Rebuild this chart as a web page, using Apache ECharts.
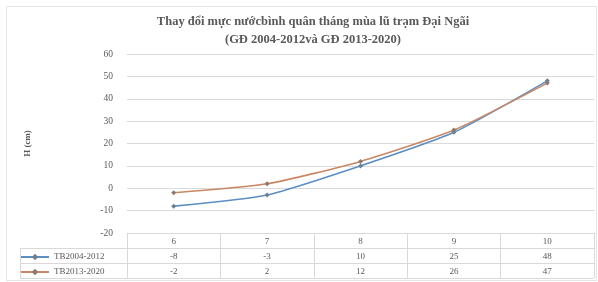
<!DOCTYPE html>
<html>
<head>
<meta charset="utf-8">
<script src="https://cdn.jsdelivr.net/npm/echarts@6/dist/echarts.min.js"></script>
<style>
  html, body { margin: 0; padding: 0; background: #fff; }
  #chart { width: 598px; height: 282px; }
</style>
</head>
<body>
<div id="chart"></div>
<script>
// số liệu
const months = ['6', '7', '8', '9', '10'];
const tb2004 = [-8, -3, 10, 25, 48];
const tb2013 = [-2, 2, 12, 26, 47];
const seriesNames = ['TB2004-2012', 'TB2013-2020'];

const serif = 'Liberation Serif';
const textColor = '#595959';
const gridColor = '#d9d9d9';

const chart = echarts.init(document.getElementById('chart'));

const option = {
  backgroundColor: '#fff',
  animation: false,
  title: {
    text: 'Thay đổi mực nướcbình quân tháng mùa lũ trạm Đại Ngãi\n(GĐ 2004-2012và GĐ 2013-2020)',
    left: 308,
    top: 8,
    textAlign: 'center',
    textStyle: {
      fontFamily: serif,
      fontSize: 12.5,
      fontWeight: 'bold',
      color: textColor,
      lineHeight: 18
    }
  },
  legend: {
    orient: 'vertical',
    left: 20,
    top: 251,
    padding: 0,
    itemWidth: 28,
    itemHeight: 8,
    itemGap: 3,
    textStyle: { fontFamily: serif, fontSize: 9, color: textColor, lineHeight: 12 },
    data: seriesNames
  },
  grid: {
    left: 127,
    right: 4,
    top: 54,
    bottom: 49
  },
  xAxis: {
    type: 'category',
    data: months,
    boundaryGap: true,
    axisLine: { onZero: false, lineStyle: { color: gridColor } },
    axisTick: { show: true, length: 45, lineStyle: { color: gridColor } },
    axisLabel: {
      margin: 1,
      fontFamily: serif,
      fontSize: 9,
      color: textColor,
      lineHeight: 15,
      formatter: function (v, i) {
        return v + '\n' + tb2004[i] + '\n' + tb2013[i];
      }
    }
  },
  yAxis: {
    type: 'value',
    min: -20,
    max: 60,
    interval: 10,
    name: 'H (cm)',
    nameLocation: 'middle',
    nameGap: 95,
    nameTextStyle: { fontFamily: serif, fontSize: 9, color: textColor, fontWeight: 'bold' },
    axisLine: { show: false },
    axisTick: { show: false },
    axisLabel: { margin: 14, fontFamily: serif, fontSize: 9.5, color: textColor },
    splitLine: { lineStyle: { color: gridColor } }
  },
  series: [
    {
      name: seriesNames[0],
      type: 'line',
      data: tb2004,
      smooth: 0.2,
      symbol: 'diamond',
      symbolSize: 5,
      lineStyle: { width: 1.6, color: '#5b8fc4' },
      itemStyle: { color: '#6f7f90' }
    },
    {
      name: seriesNames[1],
      type: 'line',
      data: tb2013,
      smooth: 0.2,
      symbol: 'diamond',
      symbolSize: 5,
      lineStyle: { width: 1.6, color: '#c98863' },
      itemStyle: { color: '#8c7a70' }
    }
  ],
  graphic: [
    // khung ngoài
    { type: 'rect', shape: { x: 6.5, y: 6.5, width: 590, height: 274 }, style: { fill: null, stroke: '#e4e4e4', lineWidth: 1 }, silent: true },
    // kẻ bảng số liệu
    { type: 'line', shape: { x1: 20, y1: 248.5, x2: 594, y2: 248.5 }, style: { stroke: gridColor, lineWidth: 1 } },
    { type: 'line', shape: { x1: 20, y1: 263.5, x2: 594, y2: 263.5 }, style: { stroke: gridColor, lineWidth: 1 } },
    { type: 'line', shape: { x1: 20, y1: 278.5, x2: 594, y2: 278.5 }, style: { stroke: gridColor, lineWidth: 1 } },
    { type: 'line', shape: { x1: 20.5, y1: 248, x2: 20.5, y2: 278 }, style: { stroke: gridColor, lineWidth: 1 } }
  ]
};

chart.setOption(option);
</script>
</body>
</html>
